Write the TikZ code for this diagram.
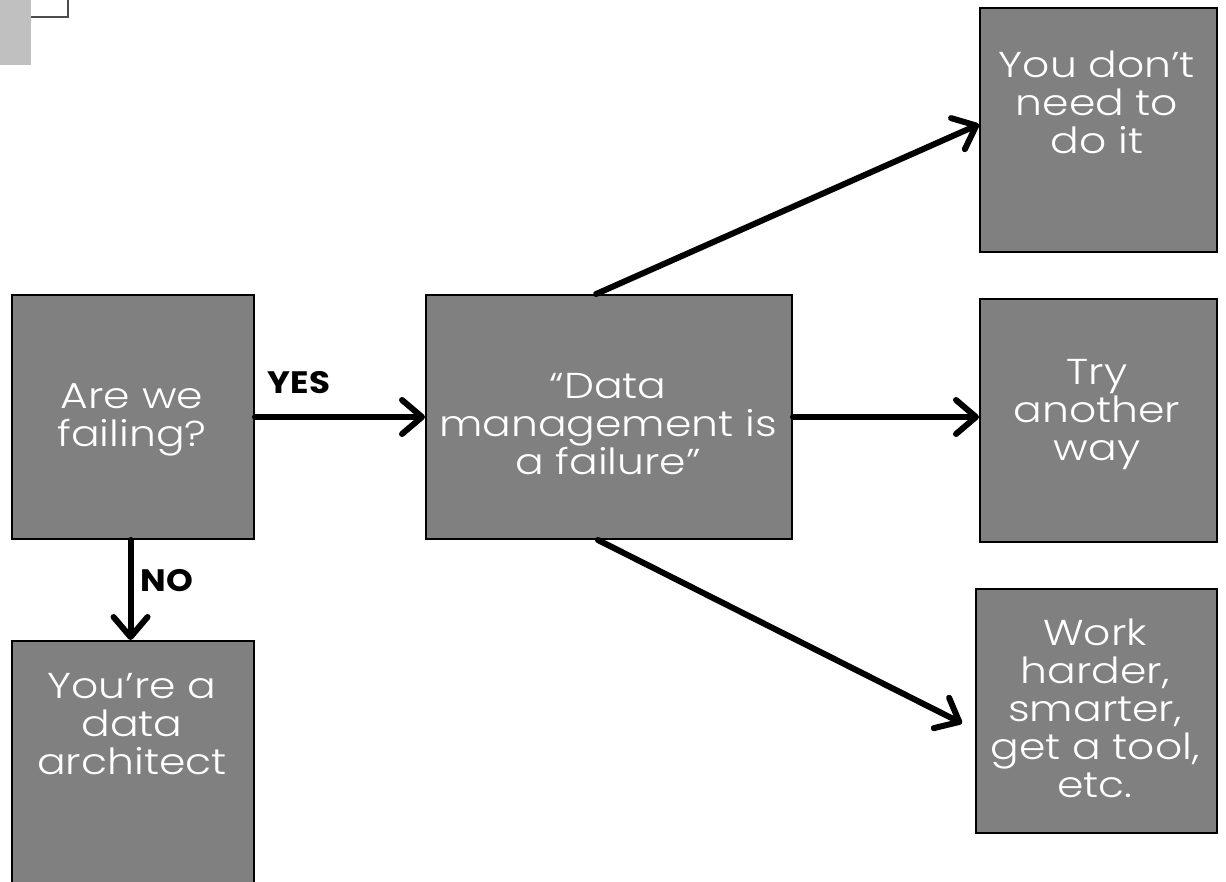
\documentclass[tikz,border=0pt]{standalone}
\usepackage{fontspec}
\setmainfont{Poppins}[FakeStretch=1.1]
\newfontfamily\cardfont{Poppins Light}[FakeStretch=1.18]
\usetikzlibrary{arrows.meta,calc}
\definecolor{cardgray}{RGB}{128,128,128}
\definecolor{tabgray}{RGB}{192,192,192}
\begin{document}
\begin{tikzpicture}[x=1pt,y=-1pt,
  card/.style={draw=black, line width=2pt, fill=cardgray, inner sep=0pt,
    anchor=north west},
  cardtext/.style={text=white, align=center, inner sep=0pt,
    font=\cardfont\fontsize{36}{38}\selectfont},
  flow/.style={line width=6pt, line cap=round,
    -{Straight Barb[length=20pt,width=34pt,round]}},
  answer/.style={font=\fontsize{31}{34}\selectfont\bfseries, inner sep=0pt}
]
\path[use as bounding box, clip] (0,0) rectangle (1226,882);

% corner tab
\draw[draw=black!70, line width=1.5pt, fill=white] (-10,-10) rectangle (68,17);
\fill[tabgray] (0,0) rectangle (31,65);

% boxes
\node[card, minimum width=242pt, minimum height=244pt] (A) at (11,294) {};
\node[card, minimum width=366pt, minimum height=244pt] (B) at (425,294) {};
\node[card, minimum width=237pt, minimum height=244pt] (C) at (979,7) {};
\node[card, minimum width=237pt, minimum height=243pt] (D) at (979,298) {};
\node[card, minimum width=241pt, minimum height=244pt] (E) at (975,588) {};
\node[card, minimum width=242pt, minimum height=260pt] (F) at (11,640) {};

% box texts
\node[cardtext] (At) at (132,420) {Are we\\failing?};
\node[cardtext] (Bt) at (608,424) {“Data\\management is\\a failure”};
\node[cardtext] (Ct) at (1097,102) {You don’t\\need to\\do it};
\node[cardtext] (Dt) at (1097,415) {Try\\another\\way};
\node[cardtext] (Et) at (1095,708) {Work\\harder,\\smarter,\\get a tool,\\etc.};
\node[cardtext] (Ft) at (132,724) {You’re a\\data\\architect};

% connectors
\coordinate (Btop) at ($(B.north west)!0.465!(B.north east)$);
\coordinate (Bbot) at ($(B.south west)!0.47!(B.south east)$);
\coordinate (Cin) at ($(C.north west)!0.477!(C.south west)$);
\coordinate (Ein) at ($(E.north west)!0.55!(E.south west)+(-13,0)$);
\coordinate (Aout) at ($(A.south west)!0.49!(A.south east)$);
\coordinate (Fin) at ($(F.north west)!0.49!(F.north east)$);

\draw[flow] (A.east) -- (B.west);
\draw[flow] (Aout) -- (Fin);
\draw[flow] (Btop) -- (Cin);
\draw[flow] (B.east) -- (D.west |- B.east);
\draw[flow] (Bbot) -- (Ein);

% answers
\node[answer] (yes) at (299,383) {YES};
\node[answer] (no) at (167,581) {NO};
\end{tikzpicture}
\end{document}
